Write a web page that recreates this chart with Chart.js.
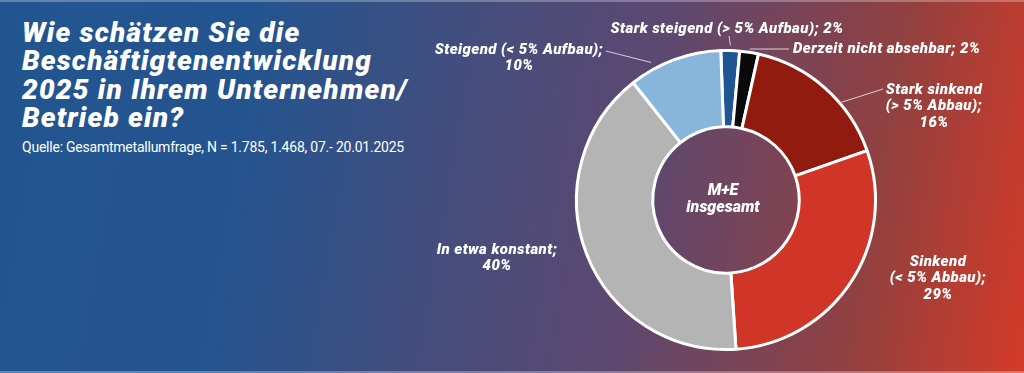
<!DOCTYPE html>
<html lang="de">
<head>
<meta charset="utf-8">
<title>Beschäftigtenentwicklung 2025</title>
<script src="https://cdn.jsdelivr.net/npm/chart.js@4/dist/chart.umd.min.js"></script>
<style>
  html, body { margin: 0; padding: 0; }
  body {
    width: 1024px; height: 373px; overflow: hidden; position: relative;
    background: linear-gradient(100deg, #22558f 0%, #24548f 24%, #4a4c7a 48%, #5d4870 62%, #93403f 84%, #d43a27 100%);
  }
  .edge { position: absolute; left: 0; width: 1024px; height: 2px; background: rgba(255,255,255,0.28); }
  #title {
    position: absolute; left: 22px; top: 19px; margin: 0; white-space: nowrap;
    font: italic 900 28px/28.4px Roboto, sans-serif; color: #fff;
  }
  #source {
    position: absolute; left: 22px; top: 139px; margin: 0; white-space: nowrap;
    font: 14px Roboto, sans-serif; color: #fff;
  }
  #chart { position: absolute; left: 0; top: 0; }
</style>
</head>
<body>
<div class="edge" style="top:0"></div>
<div class="edge" style="bottom:0"></div>
<h1 id="title"><span>Wie schätzen Sie die</span><br><span>Beschäftigtenentwicklung</span><br><span>2025 in Ihrem Unternehmen/</span><br><span>Betrieb ein?</span></h1>
<p id="source"><span>Quelle: Gesamtmetallumfrage, N = 1.785, 1.468, 07.- 20.01.2025</span></p>
<canvas id="chart" width="1024" height="373"></canvas>
<script>
// data
const categories = [
  'Stark steigend (> 5% Aufbau)',
  'Derzeit nicht absehbar',
  'Stark sinkend (> 5% Abbau)',
  'Sinkend (< 5% Abbau)',
  'In etwa konstant',
  'Steigend (< 5% Aufbau)'
];
const shares = [2, 2, 16, 29, 40, 10];
const centerLines = ['M+E', 'insgesamt'];

const sliceColors = ['#1f5592', '#0a0a0a', '#921b0f', '#d13528', '#b4b4b4', '#88b5db'];

// stretch a text block so one of its lines gets the width seen in the original
function fitSpacing(el, lineIdx, target) {
  const span = el.querySelectorAll('span')[lineIdx];
  const w = span.getBoundingClientRect().width;
  el.style.letterSpacing = ((target - w) / span.textContent.length).toFixed(2) + 'px';
}
fitSpacing(document.getElementById('title'), 1, 350);  // "Beschäftigtenentwicklung"
fitSpacing(document.getElementById('source'), 0, 382);

// where the labels sit (x,y = centre of first line), and where the leader line goes
const labelLayout = [
  { x: 727, y: 29, align: 'center', breaks: [], leader: { frac: 0.5, from: 5, to: [729, 36] } },
  { x: 793, y: 49, align: 'left', breaks: [], leader: { frac: 0.5, from: 4, to: [789, 49], flat: true } },
  { x: 934, y: 90, align: 'center', breaks: ['Stark sinkend ', 'Abbau); '], leader: { frac: 0.64, from: 2, to: [883, 89] } },
  { x: 938, y: 262, align: 'center', breaks: ['Sinkend ', 'Abbau); '], leader: null },
  { x: 497, y: 250, align: 'center', breaks: ['konstant; '], leader: null },
  { x: 519, y: 50, align: 'center', breaks: ['Aufbau); '], leader: { frac: 0.27, from: 7, to: [606, 51] } }
];
const lineHeight = 16.5;
const labelFont = 'italic 900 15px Roboto, sans-serif';
const longestLabelWidth = 233; // "Stark steigend (> 5% Aufbau); 2%"

function wrapLabel(text, breaks) {
  breaks.forEach(b => { text = text.replace(b, b.trim() + '\n'); });
  return text.split('\n');
}

const labelPlugin = {
  id: 'sliceLabels',
  afterDatasetsDraw(chart) {
    const ctx = chart.ctx;
    const arcs = chart.getDatasetMeta(0).data;
    ctx.save();
    ctx.font = labelFont;
    ctx.fillStyle = '#fff';
    ctx.textBaseline = 'middle';
    const ref = categories[0] + '; ' + shares[0] + '%';
    if ('letterSpacing' in ctx) {
      const w = ctx.measureText(ref).width;
      ctx.letterSpacing = ((longestLabelWidth - w) / ref.length).toFixed(2) + 'px';
    }

    arcs.forEach((arc, i) => {
      const lay = labelLayout[i];
      const text = categories[i] + '; ' + shares[i] + '%';
      const lines = wrapLabel(text, lay.breaks);
      ctx.textAlign = lay.align;
      lines.forEach((ln, k) => ctx.fillText(ln, lay.x, lay.y + k * lineHeight));

      if (lay.leader) {
        const p = arc.getProps(['x', 'y', 'startAngle', 'endAngle', 'outerRadius'], true);
        const a = p.startAngle + (p.endAngle - p.startAngle) * lay.leader.frac;
        const r = p.outerRadius + lay.leader.from;
        const sx = p.x + Math.cos(a) * r;
        const sy = p.y + Math.sin(a) * r;
        ctx.strokeStyle = 'rgba(255,255,255,0.75)';
        ctx.lineWidth = 1;
        ctx.beginPath();
        ctx.moveTo(sx, lay.leader.flat ? lay.leader.to[1] : sy);
        ctx.lineTo(lay.leader.to[0], lay.leader.to[1]);
        ctx.stroke();
      }
    });

    // centre text
    const c = arcs[0];
    ctx.font = 'italic 900 16px Roboto, sans-serif';
    ctx.letterSpacing = '0px';
    ctx.textAlign = 'center';
    ctx.fillText(centerLines[0], c.x - 3, c.y - 9);
    ctx.fillText(centerLines[1], c.x - 3, c.y + 8);
    ctx.restore();
  }
};

new Chart(document.getElementById('chart'), {
  type: 'doughnut',
  data: {
    labels: categories,
    datasets: [{
      data: shares,
      backgroundColor: sliceColors,
      borderColor: '#ffffff',
      borderWidth: 3,
      hoverOffset: 0
    }]
  },
  options: {
    responsive: false,
    animation: false,
    devicePixelRatio: 1,
    cutout: '49%',
    rotation: -2,
    layout: { padding: { left: 575, right: 147, top: 49, bottom: 22 } },
    plugins: {
      legend: { display: false },
      tooltip: { enabled: false }
    }
  },
  plugins: [labelPlugin]
});
</script>
</body>
</html>
